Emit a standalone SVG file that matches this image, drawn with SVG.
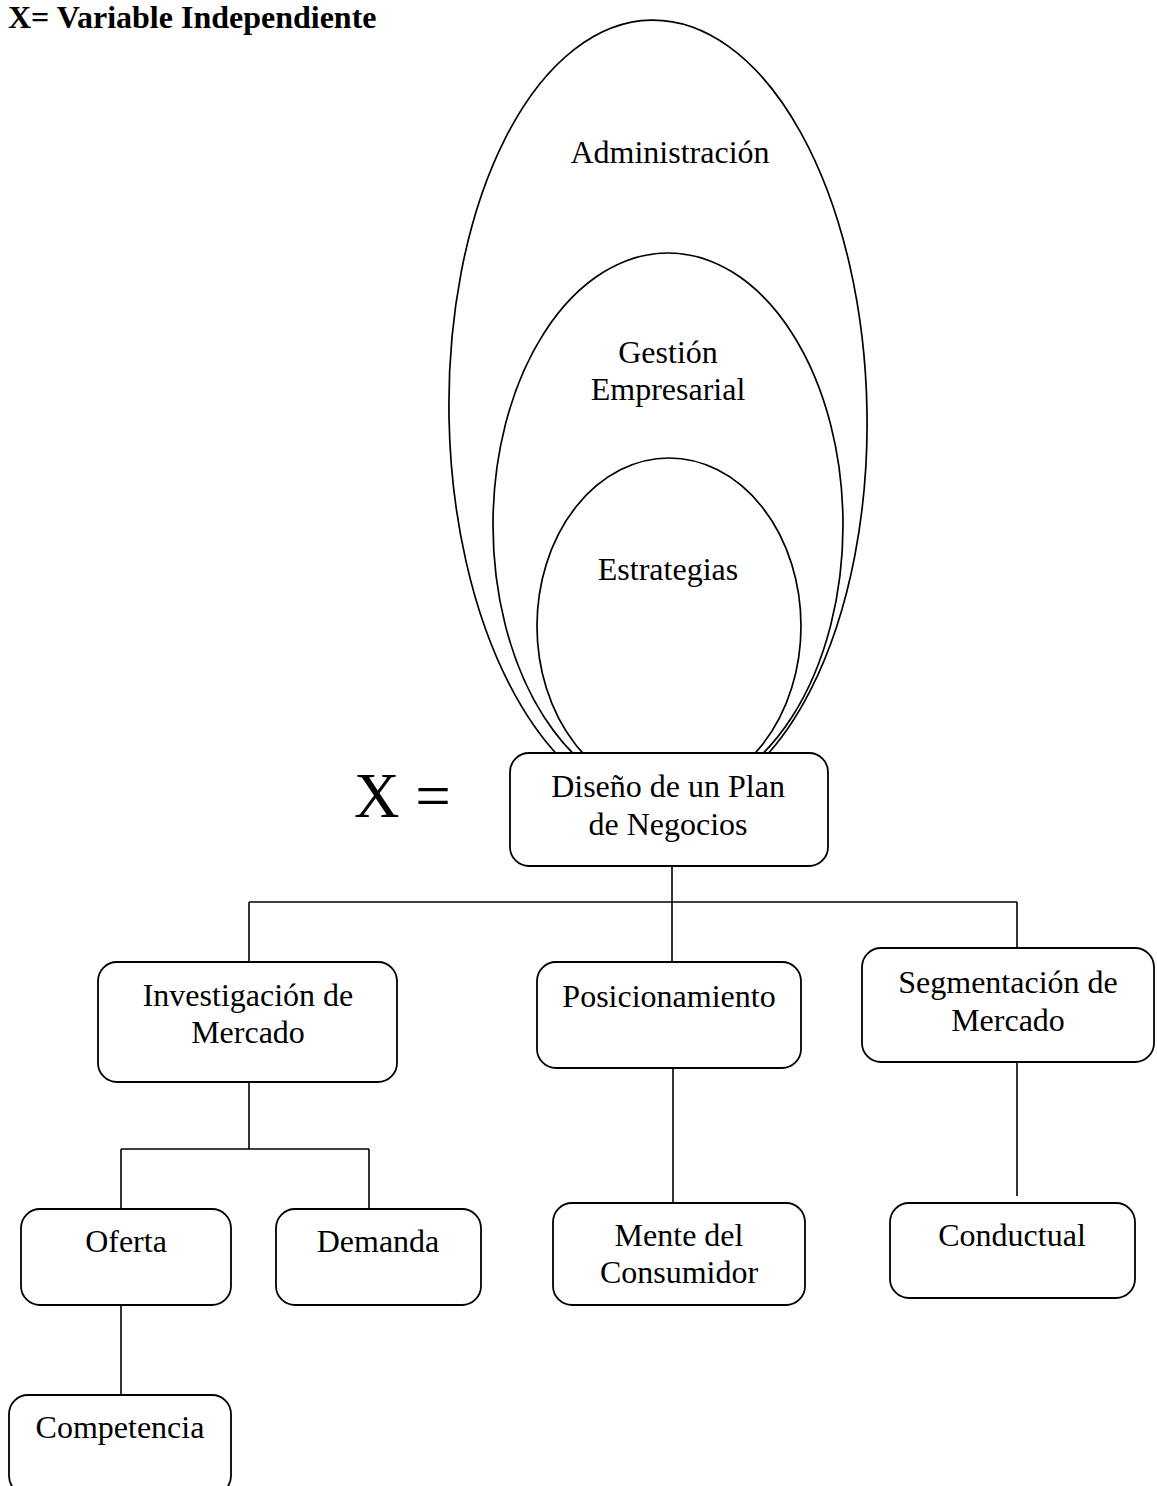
<svg xmlns="http://www.w3.org/2000/svg" width="1157" height="1486" viewBox="0 0 1157 1486">
  <style>
    .t { font-family: "Liberation Serif", "Times New Roman", serif; font-size: 32px; fill: #000; text-anchor: middle; }
    .title { font-family: "Liberation Serif", "Times New Roman", serif; font-size: 32px; font-weight: bold; fill: #000; }
    .big { font-family: "Liberation Serif", "Times New Roman", serif; font-size: 63px; fill: #000; }
    .box { fill: #fff; stroke: #000; stroke-width: 1.8; }
    .ell { fill: none; stroke: #000; stroke-width: 1.7; }
    .ln { fill: none; stroke: #000; stroke-width: 1.6; }
  </style>
  <rect width="1157" height="1486" fill="#fff"/>

  <text class="title" x="8" y="28">X= Variable Independiente</text>

  <!-- nested concept ellipses, drawn first so the root box hides their lower ends -->
  <g id="administracion">
    <ellipse class="ell" cx="658" cy="414" rx="209" ry="394" transform="rotate(-1 658 414)"/>
    <text class="t" x="670" y="163">Administración</text>
  </g>
  <g id="gestion-empresarial">
    <ellipse class="ell" cx="668" cy="525" rx="175" ry="272"/>
    <text class="t" x="668" y="363">Gestión</text>
    <text class="t" x="668" y="400">Empresarial</text>
  </g>
  <g id="estrategias">
    <ellipse class="ell" cx="669" cy="626" rx="132" ry="168"/>
    <text class="t" x="668" y="580">Estrategias</text>
  </g>

  <!-- connectors -->
  <g id="connectors">
    <path class="ln" d="M672 866 V962"/>
    <path class="ln" d="M249 902 H1017"/>
    <path class="ln" d="M249 902 V962"/>
    <path class="ln" d="M1017 902 V948"/>
    <path class="ln" d="M249 1082 V1149"/>
    <path class="ln" d="M121 1149 H369"/>
    <path class="ln" d="M121 1149 V1209"/>
    <path class="ln" d="M369 1149 V1209"/>
    <path class="ln" d="M121 1305 V1395"/>
    <path class="ln" d="M673 1068 V1203"/>
    <path class="ln" d="M1017 1062 V1196"/>
  </g>

  <text class="big" x="354" y="817">X =</text>

  <g id="plan-negocios">
    <rect class="box" x="510" y="753" width="318" height="113" rx="19"/>
    <text class="t" x="668" y="797">Diseño de un Plan</text>
    <text class="t" x="668" y="835">de Negocios</text>
  </g>

  <g id="investigacion">
    <rect class="box" x="98" y="962" width="299" height="120" rx="19"/>
    <text class="t" x="248" y="1006">Investigación de</text>
    <text class="t" x="248" y="1043">Mercado</text>
  </g>

  <g id="posicionamiento">
    <rect class="box" x="537" y="962" width="264" height="106" rx="19"/>
    <text class="t" x="669" y="1007">Posicionamiento</text>
  </g>

  <g id="segmentacion">
    <rect class="box" x="862" y="948" width="292" height="114" rx="19"/>
    <text class="t" x="1008" y="993">Segmentación de</text>
    <text class="t" x="1008" y="1031">Mercado</text>
  </g>

  <g id="oferta">
    <rect class="box" x="21" y="1209" width="210" height="96" rx="19"/>
    <text class="t" x="126" y="1252">Oferta</text>
  </g>

  <g id="demanda">
    <rect class="box" x="276" y="1209" width="205" height="96" rx="19"/>
    <text class="t" x="378" y="1252">Demanda</text>
  </g>

  <g id="mente-consumidor">
    <rect class="box" x="553" y="1203" width="252" height="102" rx="19"/>
    <text class="t" x="679" y="1246">Mente del</text>
    <text class="t" x="679" y="1283">Consumidor</text>
  </g>

  <g id="conductual">
    <rect class="box" x="890" y="1203" width="245" height="95" rx="19"/>
    <text class="t" x="1012" y="1246">Conductual</text>
  </g>

  <g id="competencia">
    <rect class="box" x="9" y="1395" width="222" height="100" rx="19"/>
    <text class="t" x="120" y="1438">Competencia</text>
  </g>
</svg>
